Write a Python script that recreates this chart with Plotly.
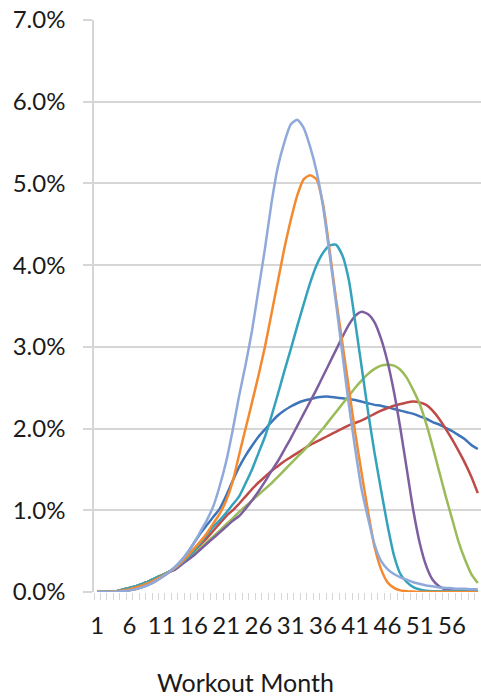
import plotly.graph_objects as go

# Workout month categories 1..60
months = list(range(1, 61))
tick_months = list(range(1, 60, 5))
tick_labels = [str(m) for m in tick_months]
y_ticks = [0, 1, 2, 3, 4, 5, 6, 7]

# Share of workouts per month (%), one curve per cohort
series_blue = [0, 0, 0.005, 0.01, 0.03, 0.05, 0.07, 0.1, 0.13, 0.17, 0.205, 0.24,
               0.3, 0.38, 0.48, 0.6, 0.72, 0.82, 0.92, 1.02, 1.18, 1.36, 1.53, 1.67,
               1.79, 1.9, 1.99, 2.08, 2.16, 2.22, 2.27, 2.31, 2.34, 2.36, 2.38, 2.39,
               2.39, 2.38, 2.37, 2.36, 2.35, 2.33, 2.31, 2.29, 2.28, 2.26, 2.24, 2.22,
               2.2, 2.18, 2.15, 2.12, 2.08, 2.05, 2.01, 1.97, 1.92, 1.87, 1.8, 1.75]
series_red = [0, 0, 0.005, 0.01, 0.03, 0.05, 0.07, 0.1, 0.13, 0.17, 0.205, 0.24,
              0.29, 0.35, 0.42, 0.5, 0.58, 0.66, 0.75, 0.84, 0.93, 1.0, 1.08, 1.17,
              1.26, 1.34, 1.41, 1.48, 1.54, 1.6, 1.65, 1.7, 1.75, 1.8, 1.84, 1.88,
              1.92, 1.96, 2.0, 2.04, 2.07, 2.1, 2.14, 2.18, 2.22, 2.25, 2.28, 2.3,
              2.32, 2.33, 2.32, 2.29, 2.22, 2.12, 2.0, 1.87, 1.73, 1.58, 1.41, 1.21]
series_green = [0, 0, 0.005, 0.01, 0.03, 0.05, 0.07, 0.1, 0.13, 0.17, 0.205, 0.24,
                0.28, 0.34, 0.4, 0.47, 0.54, 0.61, 0.68, 0.75, 0.83, 0.9, 0.98, 1.05,
                1.12, 1.19, 1.26, 1.33, 1.41, 1.49, 1.57, 1.65, 1.73, 1.82, 1.91, 2.0,
                2.1, 2.2, 2.3, 2.4, 2.5, 2.59, 2.67, 2.73, 2.77, 2.78, 2.77, 2.72,
                2.62, 2.47, 2.3, 2.06, 1.78, 1.48, 1.18, 0.9, 0.62, 0.4, 0.22, 0.11]
series_purple = [0, 0, 0, 0.005, 0.01, 0.02, 0.035, 0.06, 0.09, 0.13, 0.18, 0.235,
                 0.27, 0.33, 0.39, 0.45, 0.52, 0.59, 0.66, 0.73, 0.8, 0.87, 0.93, 1.02,
                 1.12, 1.23, 1.35, 1.48, 1.6, 1.74, 1.88, 2.03, 2.18, 2.33, 2.48, 2.64,
                 2.8, 2.96, 3.12, 3.27, 3.38, 3.43, 3.4, 3.3, 3.1, 2.82, 2.45, 2.0,
                 1.5, 1.0, 0.6, 0.32, 0.15, 0.07, 0.03, 0.02, 0.01, 0.01, 0.01, 0.01]
series_teal = [0, 0, 0.005, 0.01, 0.03, 0.05, 0.07, 0.1, 0.13, 0.17, 0.205, 0.24,
               0.29, 0.35, 0.42, 0.5, 0.6, 0.7, 0.8, 0.88, 0.97, 1.07, 1.17, 1.33,
               1.5, 1.7, 1.9, 2.15, 2.42, 2.7, 2.97, 3.25, 3.52, 3.78, 4.0, 4.15,
               4.24, 4.25, 4.12, 3.82, 3.3, 2.75, 2.2, 1.7, 1.25, 0.82, 0.45, 0.22,
               0.12, 0.06, 0.03, 0.015, 0.01, 0.01, 0.01, 0.01, 0.01, 0.01, 0.01, 0.01]
series_orange = [0, 0, 0.005, 0.01, 0.02, 0.035, 0.055, 0.08, 0.11, 0.15, 0.19, 0.235,
                 0.29, 0.36, 0.44, 0.53, 0.62, 0.72, 0.84, 0.96, 1.12, 1.35, 1.68, 2.0,
                 2.32, 2.65, 3.0, 3.4, 3.8, 4.2, 4.55, 4.85, 5.05, 5.1, 5.05, 4.75,
                 4.2, 3.6, 3.05, 2.5, 1.95, 1.45, 0.98, 0.55, 0.28, 0.12, 0.05, 0.02,
                 0.01, 0.005, 0, 0, 0, 0, 0, 0, 0, 0, 0, 0]
series_lightblue = [0, 0, 0, 0.005, 0.01, 0.02, 0.035, 0.06, 0.09, 0.13, 0.18, 0.235,
                    0.3, 0.38, 0.48, 0.6, 0.74, 0.88, 1.05, 1.3, 1.6, 1.98, 2.4, 2.78,
                    3.2, 3.7, 4.2, 4.75, 5.2, 5.5, 5.72, 5.78, 5.68, 5.45, 5.15, 4.72,
                    4.15, 3.55, 2.92, 2.3, 1.75, 1.25, 0.9, 0.58, 0.38, 0.28, 0.22, 0.18,
                    0.15, 0.12, 0.1, 0.08, 0.07, 0.055, 0.05, 0.045, 0.04, 0.04, 0.035, 0.035]

curves = [
    (series_blue, "#3E74B8"),
    (series_red, "#BE4B48"),
    (series_green, "#9BBB59"),
    (series_purple, "#7D5FA0"),
    (series_teal, "#35A2BC"),
    (series_orange, "#F38A30"),
    (series_lightblue, "#8FAADA"),
]

FONT = "Lato, 'Open Sans', sans-serif"
GRID = "#D6D6D6"

fig = go.Figure()
for values, color in curves:
    fig.add_trace(go.Scatter(
        x=months, y=values, mode="lines",
        line=dict(color=color, width=2.5, shape="spline", smoothing=0.6),
        showlegend=False, hoverinfo="skip",
    ))

fig.update_layout(
    width=481, height=697,
    margin=dict(l=94, r=0, t=20, b=105),
    paper_bgcolor="white", plot_bgcolor="white",
    font=dict(family=FONT, color="#1a1a1a", size=24),
    xaxis=dict(
        range=[0.5, 60.5],
        tickmode="array", tickvals=tick_months, ticktext=tick_labels,
        ticks="", showgrid=False, zeroline=False,
        showline=False,
        tickfont=dict(size=24),
        ticklabelstandoff=17,
        minor=dict(
            tickvals=[m + 0.5 for m in [0] + months],
            ticks="outside", ticklen=7, tickcolor=GRID, tickwidth=1,
            showgrid=False,
        ),
    ),
    yaxis=dict(
        range=[0, 7],
        tickmode="array", tickvals=y_ticks,
        ticktext=[f"{v:.1f}%" for v in y_ticks],
        showgrid=True, gridcolor=GRID, gridwidth=1.5,
        zeroline=False,
        showline=True, linecolor=GRID, linewidth=1.5,
        ticks="outside", ticklen=9, tickcolor=GRID, tickwidth=1.5,
        tickfont=dict(size=24),
        ticklabelstandoff=13,
    ),
    annotations=[dict(
        text="Workout Month", xref="paper", yref="paper",
        x=0.392, y=-0.158, xanchor="center", yanchor="middle",
        showarrow=False, font=dict(family=FONT, size=25, color="#1a1a1a"),
    )],
)

fig.write_html("out.html")
